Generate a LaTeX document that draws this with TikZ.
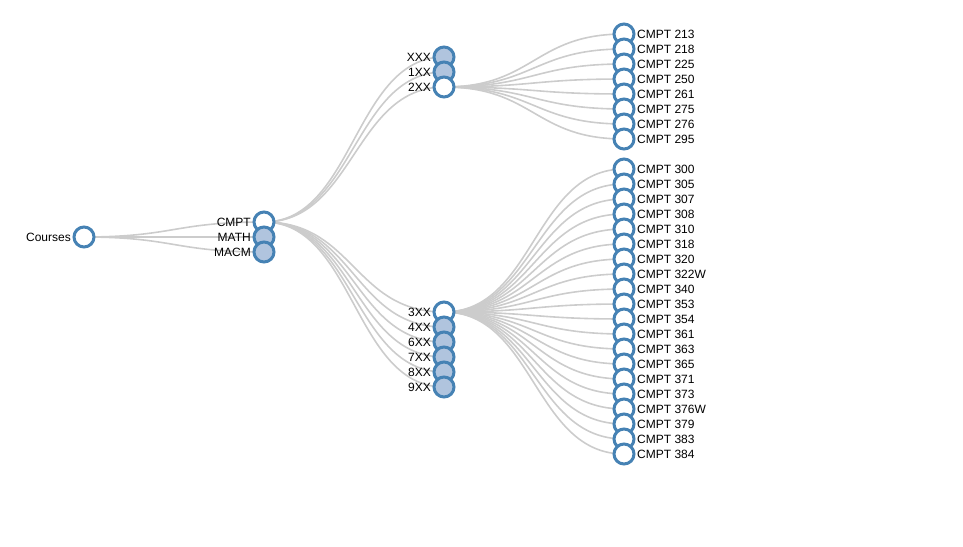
\documentclass[tikz,border=0pt]{standalone}
\usepackage{fontspec}
\setmainfont{Liberation Sans}
\usetikzlibrary{calc}
\definecolor{steel}{HTML}{4682B4}
\definecolor{lsteel}{HTML}{B0C4DE}
\definecolor{linkgray}{HTML}{CCCCCC}
\pgfdeclarelayer{bg}
\pgfsetlayers{bg,main}
\tikzset{
  nd/.style={circle, draw=steel, line width=3pt, minimum size=20pt, inner sep=0pt, fill=white},
  col/.style={nd, fill=lsteel},
  lk/.style={draw=linkgray, line width=1.6pt},
  lbl/.style={font=\fontsize{12}{14}\selectfont, inner sep=0pt},
  lbll/.style={lbl, anchor=base east},
  lblr/.style={lbl, anchor=base west}
}
\newcommand\lnk[2]{\draw[lk] let \p1=(#1.center), \p2=(#2.center) in (\p1) .. controls ({(\x1+\x2)/2},\y1) and ({(\x1+\x2)/2},\y2) .. (\p2);}
\begin{document}
\begin{tikzpicture}[x=1pt,y=-1pt]
\useasboundingbox (0,0) rectangle (963,546);
% root
\node[nd] (root) at (84,237) {};
\node[lbll] (troot) at (71,241.2) {Courses};
% level 1
\node[nd] (cmpt) at (264,222) {};
\node[lbll] (tcmpt) at (251,226.2) {CMPT};
\node[col] (math) at (264,237) {};
\node[lbll] (tmath) at (251,241.2) {MATH};
\node[col] (macm) at (264,252) {};
\node[lbll] (tmacm) at (251,256.2) {MACM};
% level 2
\foreach \q/\t/\yy/\s in {gxxx/XXX/57/col, g1xx/1XX/72/col, g2xx/2XX/87/nd,
  g3xx/3XX/312/nd, g4xx/4XX/327/col, g6xx/6XX/342/col, g7xx/7XX/357/col, g8xx/8XX/372/col, g9xx/9XX/387/col} {
  \node[\s] (\q) at (444,\yy) {};
  \node[lbll] (t\q) at (431,\yy+4.2) {\t};
}
% level 3, group A
\foreach \cc [count=\i from 0] in {213,218,225,250,261,275,276,295} {
  \node[nd] (c\cc) at (624,34+15*\i) {};
  \node[lblr] (tc\cc) at (637,38.2+15*\i) {CMPT \cc};
}
% level 3, group B
\foreach \cc [count=\i from 0] in {300,305,307,308,310,318,320,322W,340,353,354,361,363,365,371,373,376W,379,383,384} {
  \node[nd] (c\cc) at (624,169+15*\i) {};
  \node[lblr] (tc\cc) at (637,173.2+15*\i) {CMPT \cc};
}
\begin{pgfonlayer}{bg}
\lnk{root}{cmpt}
\lnk{root}{math}
\lnk{root}{macm}
\foreach \q in {gxxx,g1xx,g2xx,g3xx,g4xx,g6xx,g7xx,g8xx,g9xx} {\edef\tmp{\noexpand\lnk{cmpt}{\q}}\tmp}
\foreach \cc in {213,218,225,250,261,275,276,295} {\edef\tmp{\noexpand\lnk{g2xx}{c\cc}}\tmp}
\foreach \cc in {300,305,307,308,310,318,320,322W,340,353,354,361,363,365,371,373,376W,379,383,384} {\edef\tmp{\noexpand\lnk{g3xx}{c\cc}}\tmp}
\end{pgfonlayer}
\end{tikzpicture}
\end{document}
